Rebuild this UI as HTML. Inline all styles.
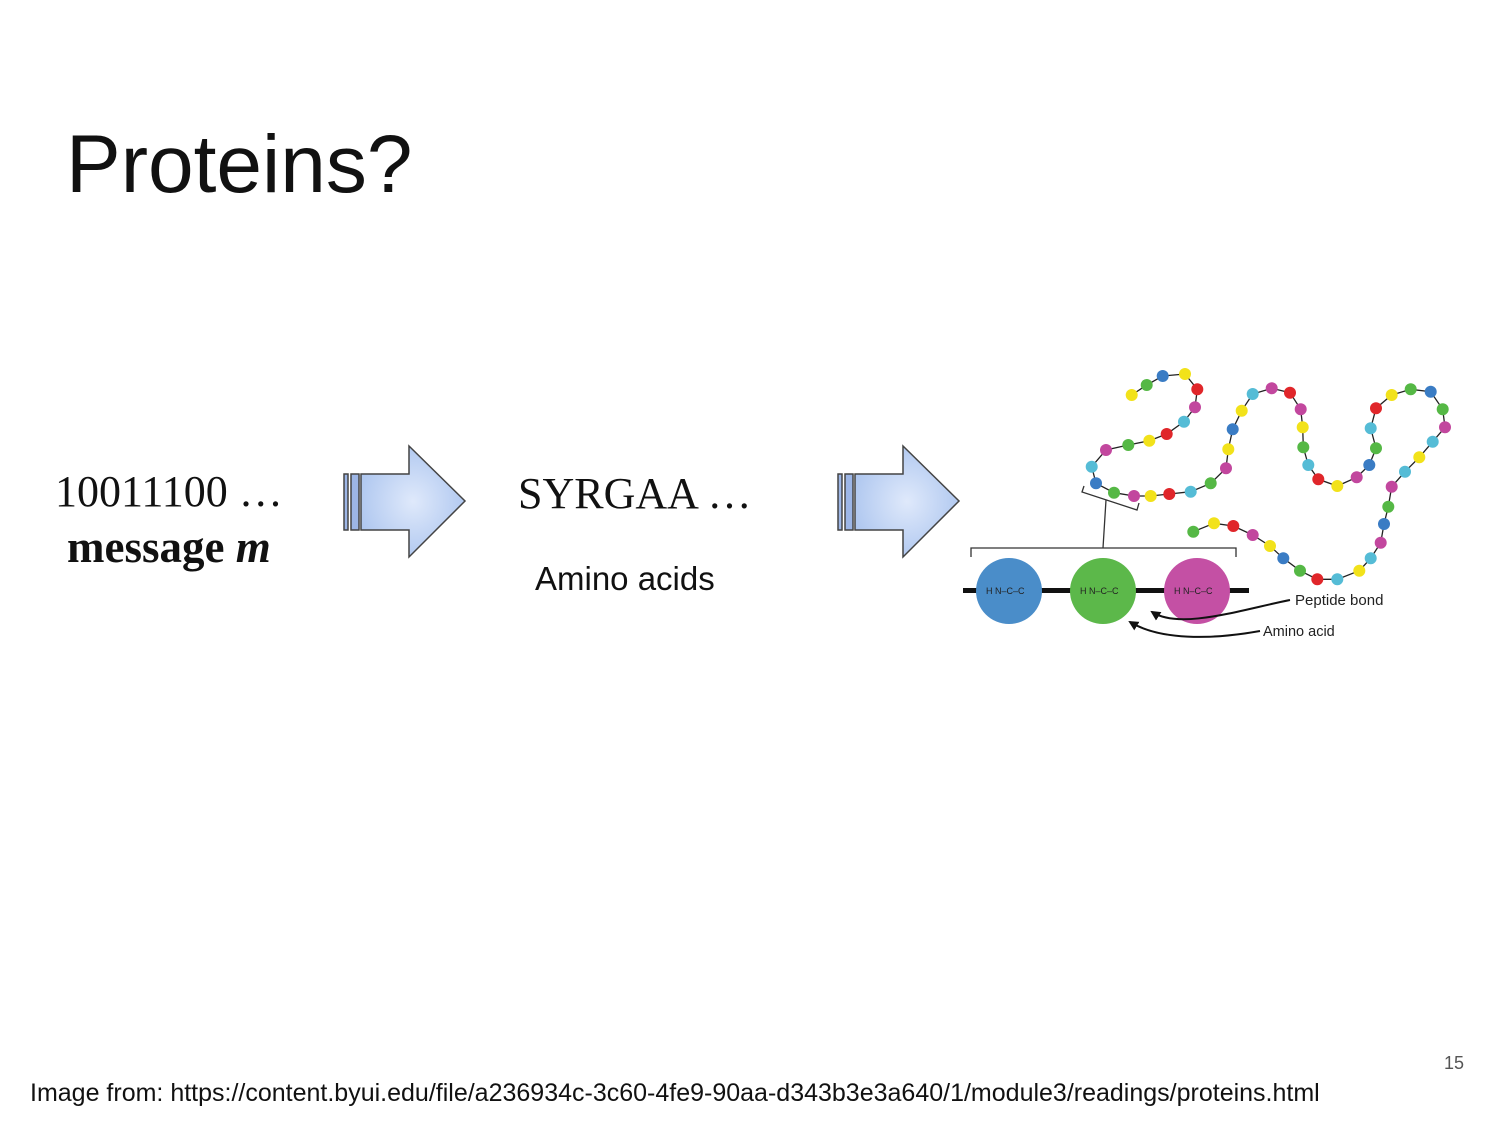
<!DOCTYPE html>
<html><head><meta charset="utf-8"><style>
body{margin:0;width:1500px;height:1125px;background:#fff;position:relative;overflow:hidden;font-family:"Liberation Sans",sans-serif}
.t{position:absolute;white-space:nowrap;line-height:1}
.s{font-family:"Liberation Serif",serif}
</style></head><body>
<div class="t" style="left:66px;top:124px;font-size:82px;color:#111">Proteins?</div>
<div class="t s" style="left:55px;top:470px;font-size:44px;color:#111">10011100 …</div>
<div class="t s" style="left:67px;top:525px;font-size:45px;font-weight:bold;color:#111">message <i>m</i></div>
<div class="t s" style="left:518px;top:472px;font-size:44px;color:#111">SYRGAA …</div>
<div class="t" style="left:535px;top:562px;font-size:33px;color:#111">Amino acids</div>
<div class="t" style="left:30px;top:1081px;font-size:25px;color:#111">Image from: https://content.byui.edu/file/a236934c-3c60-4fe9-90aa-d343b3e3a640/1/module3/readings/proteins.html</div>
<div class="t" style="left:1444px;top:1054px;font-size:18px;color:#555">15</div>
<svg width="1500" height="1125" style="position:absolute;left:0;top:0">
<defs>
<radialGradient id="ag" cx="0.5" cy="0.5" r="0.6"><stop offset="0" stop-color="#dfe9fb"/><stop offset="1" stop-color="#a9c3ee"/></radialGradient>
<marker id="mk" markerWidth="5" markerHeight="5" refX="4" refY="2.5" orient="auto"><path d="M0,0L5,2.5L0,5z" fill="#111"/></marker>
</defs>
<g id="arr">
<rect x="344" y="474" width="4" height="56" fill="#9db6e6" stroke="#444" stroke-width="1.5"/>
<rect x="351" y="474" width="8" height="56" fill="#9db6e6" stroke="#444" stroke-width="1.5"/>
<path d="M361,474H409V446L465,501L409,557V530H361Z" fill="url(#ag)" stroke="#444" stroke-width="1.5"/>
</g>
<use href="#arr" x="494" y="0"/>
<g id="chain"></g>
<path d="M1106,500L1103,548M971,557V548H1236V557" fill="none" stroke="#333" stroke-width="1.3"/>
<path d="M1084,486L1082,492L1137,510L1139,503" fill="none" stroke="#333" stroke-width="1.3"/>
<rect x="963" y="588" width="286" height="5" fill="#111"/>
<circle cx="1009" cy="591" r="33" fill="#4a8dc9"/>
<circle cx="1103" cy="591" r="33" fill="#5cb84a"/>
<circle cx="1197" cy="591" r="33" fill="#c450a4"/>
<g font-size="9" fill="#222" font-family="Liberation Sans">
<text x="986" y="594">H N–C–C</text><text x="1080" y="594">H N–C–C</text><text x="1174" y="594">H N–C–C</text>
</g>
<path d="M1290,600C1240,610 1180,630 1152,612" fill="none" stroke="#111" stroke-width="2" marker-end="url(#mk)"/>
<path d="M1260,631C1210,640 1160,640 1130,622" fill="none" stroke="#111" stroke-width="2" marker-end="url(#mk)"/>
<text x="1295" y="605" font-size="15" fill="#222">Peptide bond</text>
<text x="1263" y="636" font-size="14.5" fill="#222">Amino acid</text>
</svg>
<script>
var c={y:"#f2e21a",g:"#55b845",b:"#3a7cc4",r:"#e0262a",m:"#c2479e",c:"#55bcd6"};
var p=[["y",515,75],["g",560,45],["b",608,18],["y",675,12],["r",712,58],["m",705,112],["c",672,155],["r",620,192],["y",568,212],["g",505,225],["m",438,240],["c",395,290],["b",408,340],["g",462,368],["m",522,378],["y",572,378],["r",628,372],["c",692,365],["g",752,340],["m",798,295],["y",805,238],["b",818,178],["y",845,122],["c",878,72],["m",935,55],["r",990,68],["m",1022,118],["y",1028,172],["g",1030,232],["c",1045,285],["r",1075,328],["y",1132,348],["m",1190,322],["b",1228,285],["g",1248,235],["c",1232,175],["r",1248,115],["y",1295,75],["g",1352,58],["b",1412,65],["g",1448,118],["m",1455,172],["c",1418,215],["y",1378,262],["c",1335,305],["m",1295,350],["g",1285,410],["b",1272,462],["m",1262,518],["c",1232,565],["y",1198,602],["c",1132,628],["r",1072,628],["g",1020,602],["b",970,565],["y",930,528],["m",878,495],["r",820,468],["y",762,460],["g",700,485]];
var s="",pts=[];
p.forEach(function(q){var x=960+q[1]/3,y=370+q[2]/3;pts.push(x.toFixed(1)+","+y.toFixed(1));});
s+='<polyline points="'+pts.join(" ")+'" fill="none" stroke="#222" stroke-width="1.3"/>';
p.forEach(function(q){var x=960+q[1]/3,y=370+q[2]/3;s+='<circle cx="'+x.toFixed(1)+'" cy="'+y.toFixed(1)+'" r="6" fill="'+c[q[0]]+'"/>';});
document.getElementById("chain").innerHTML=s;
</script>
</body></html>
